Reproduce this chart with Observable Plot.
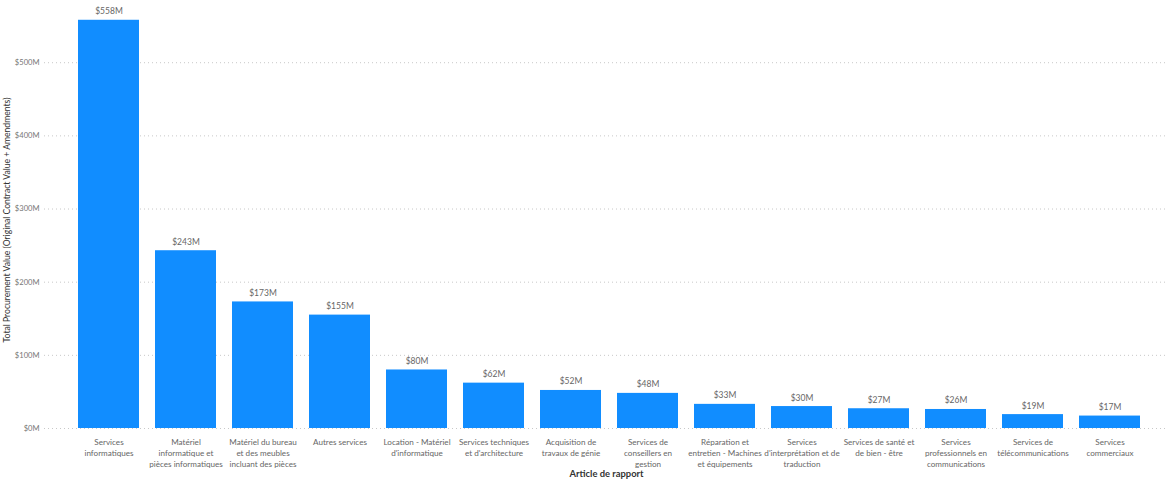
<!DOCTYPE html>
<html>
<head>
<meta charset="utf-8">
<script src="https://cdn.jsdelivr.net/npm/d3@7"></script>
<script src="https://cdn.jsdelivr.net/npm/@observablehq/plot@0.6"></script>
<style>
  html, body { margin: 0; padding: 0; background: #fff; }
  #chart { width: 1170px; height: 480px; }
</style>
</head>
<body>
<div id="chart"></div>
<script>
const categories = [
  "Services informatiques",
  "Matériel informatique et pièces informatiques",
  "Matériel du bureau et des meubles incluant des pièces",
  "Autres services",
  "Location - Matériel d'informatique",
  "Services techniques et d'architecture",
  "Acquisition de travaux de génie",
  "Services de conseillers en gestion",
  "Réparation et entretien - Machines et équipements",
  "Services d'interprétation et de traduction",
  "Services de santé et de bien - être",
  "Services professionnels en communications",
  "Services de télécommunications",
  "Services commerciaux"
];
const values = [558, 243, 173, 155, 80, 62, 52, 48, 33, 30, 27, 26, 19, 17];
const tickLabels = [
  "Services\ninformatiques",
  "Matériel\ninformatique et\npièces informatiques",
  "Matériel du bureau\net des meubles\nincluant des pièces",
  "Autres services",
  "Location - Matériel\nd'informatique",
  "Services techniques\net d'architecture",
  "Acquisition de\ntravaux de génie",
  "Services de\nconseillers en\ngestion",
  "Réparation et\nentretien - Machines\net équipements",
  "Services\nd'interprétation et de\ntraduction",
  "Services de santé et\nde bien - être",
  "Services\nprofessionnels en\ncommunications",
  "Services de\ntélécommunications",
  "Services\ncommerciaux"
];
const yTicks = [0, 100, 200, 300, 400, 500];
const xTitle = "Article de rapport";
const yTitle = "Total Procurement Value (Original Contract Value + Amendments)";

const data = categories.map((c, i) => ({cat: c, value: values[i], label: tickLabels[i]}));
const labelOf = new Map(data.map(d => [d.cat, d.label]));

const font = "Lato, 'Open Sans', sans-serif";

const chart = Plot.plot({
  width: 1170,
  height: 480,
  marginLeft: 44,
  marginRight: 2,
  marginTop: 11,
  marginBottom: 52,
  style: {fontFamily: font, fontSize: "8.1px", background: "#fff"},
  x: {domain: categories, range: [77, 1140], paddingInner: 0.21, paddingOuter: 0, label: null},
  y: {domain: [0, 570], label: null},
  marks: [
    Plot.gridY(yTicks, {stroke: "#c8c8c8", strokeOpacity: 1, strokeDasharray: "1,3"}),
    Plot.barY(data, {x: "cat", y: "value", fill: "#118DFF"}),
    Plot.text(data, {x: "cat", y: "value", text: d => `$${d.value}M`, dy: -6, lineAnchor: "bottom", fill: "#666666", fontSize: 8.5}),
    Plot.axisX({tickSize: 0, tickPadding: 9, tickFormat: d => labelOf.get(d), fill: "#666666", fontSize: 8.1, lineHeight: 1.33, label: null}),
    Plot.axisY({ticks: yTicks, tickSize: 0, tickPadding: 5, tickFormat: d => `$${d}M`, fill: "#777777", fontSize: 7.6, label: null}),
    Plot.text([xTitle], {frameAnchor: "bottom", dy: 45, fontSize: 9.4, fontWeight: "bold", fill: "#333333", lineAnchor: "middle"}),
    Plot.text([yTitle], {frameAnchor: "left", dx: -37, rotate: -90, textAnchor: "middle", fontSize: 8.6, fill: "#333333", lineAnchor: "middle"})
  ]
});
document.getElementById("chart").appendChild(chart);
</script>
</body>
</html>
